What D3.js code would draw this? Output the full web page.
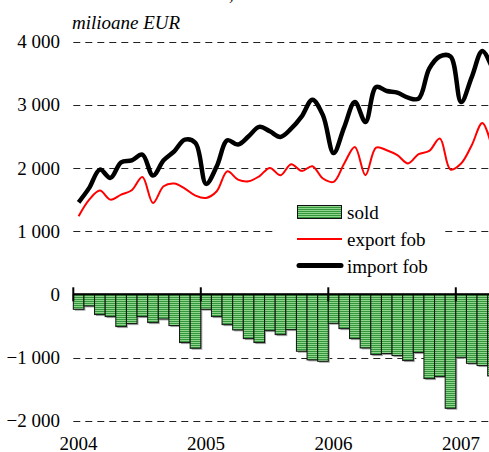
<!DOCTYPE html>
<html>
<head>
<meta charset="utf-8">
<script src="https://cdn.jsdelivr.net/npm/d3@7"></script>
<style>
  html, body { margin: 0; padding: 0; background: #fff; }
  svg { display: block; }
  text { font-family: "Liberation Serif", "Times New Roman", serif; fill: #000; }
</style>
</head>
<body>
<div id="chart"></div>
<script>
// monthly data, Jan 2004 - Apr 2007 (milioane EUR)
const months = [
  '2004-01', '2004-02', '2004-03', '2004-04', '2004-05', '2004-06', '2004-07', '2004-08', '2004-09', '2004-10', '2004-11', '2004-12',
  '2005-01', '2005-02', '2005-03', '2005-04', '2005-05', '2005-06', '2005-07', '2005-08', '2005-09', '2005-10', '2005-11', '2005-12',
  '2006-01', '2006-02', '2006-03', '2006-04', '2006-05', '2006-06', '2006-07', '2006-08', '2006-09', '2006-10', '2006-11', '2006-12',
  '2007-01', '2007-02', '2007-03', '2007-04',
];

const exportFob = [
  1235, 1498, 1641, 1498, 1578, 1646, 1857, 1446, 1709, 1752, 1673, 1562,
  1525, 1630, 1946, 1815, 1788, 1867, 2000, 1885, 2059, 1953, 2027, 1832,
  1779, 2070, 2332, 1885, 2322, 2280, 2201, 2070, 2217, 2269, 2465, 1975,
  2070, 2359, 2712, 2260,
];

const importFob = [
  1456, 1684, 1973, 1842, 2089, 2120, 2210, 1878, 2120, 2263, 2448, 2395,
  1747, 2025, 2437, 2369, 2500, 2649, 2579, 2490, 2620, 2815, 3079, 2831,
  2235, 2646, 3041, 2725, 3279, 3216, 3190, 3111, 3095, 3570, 3764, 3764,
  3041, 3437, 3848, 3550,
];

const sold = [
  -237, -185, -321, -353, -511, -464, -353, -448, -390, -495, -764, -854,
  -237, -353, -480, -564, -701, -764, -575, -638, -559, -901, -1038, -1060,
  -459, -543, -701, -849, -954, -938, -970, -1049, -922, -1334, -1302, -1804,
  -997, -1092, -1128, -1292,
];

const yTicks = [4000, 3000, 2000, 1000, 0, -1000, -2000];
const yearLabels = ['2004', '2005', '2006', '2007'];

const width = 489;
const height = 452;

const svg = d3.select('#chart')
  .append('svg')
  .attr('width', width)
  .attr('height', height);

const x = d3.scaleBand()
  .domain(months)
  .range([73.3, 73.3 + months.length * 10.625])
  .padding(0);

const y = d3.scaleLinear()
  .domain([-2000, 4000])
  .range([420.7, 41.5]);

const fmt = (v) => (v === 0 ? '0' : d3.format(',')(v).replace(',', ' '));

// stripe pattern for the bars
const defs = svg.append('defs');
const pat = defs.append('pattern')
  .attr('id', 'stripes')
  .attr('patternUnits', 'userSpaceOnUse')
  .attr('width', 4)
  .attr('height', 2);
pat.append('rect').attr('width', 4).attr('height', 1).attr('fill', '#8fd68c');
pat.append('rect').attr('y', 1).attr('width', 4).attr('height', 1).attr('fill', '#34963c');

// gridlines
svg.append('g')
  .selectAll('line')
  .data(yTicks.filter((d) => d !== 0))
  .join('line')
  .attr('x1', x.range()[0])
  .attr('x2', width)
  .attr('y1', (d) => Math.round(y(d)) + 0.5)
  .attr('y2', (d) => Math.round(y(d)) + 0.5)
  .attr('stroke', '#222')
  .attr('stroke-width', 1)
  .attr('stroke-dasharray', '7,5');

// y labels
svg.append('g')
  .selectAll('text')
  .data(yTicks)
  .join('text')
  .attr('x', 60)
  .attr('y', (d) => y(d))
  .attr('dy', '0.35em')
  .attr('text-anchor', 'end')
  .style('font-size', '19px')
  .text(fmt);

// unit label and clipped title fragment
svg.append('text')
  .attr('x', 72)
  .attr('y', 29)
  .style('font-size', '19px')
  .style('font-style', 'italic')
  .text('milioane EUR');

svg.append('text')
  .attr('x', 229)
  .attr('y', 0)
  .style('font-size', '19px')
  .text(',');

// bars: shadow then striped bar
const bars = svg.append('g');
bars.selectAll('rect.shadow')
  .data(sold)
  .join('rect')
  .attr('class', 'shadow')
  .attr('x', (d, i) => x(months[i]) + 1.5)
  .attr('y', y(0))
  .attr('width', x.bandwidth())
  .attr('height', (d) => y(d) - y(0) + 1.5)
  .attr('fill', '#aaa');

bars.selectAll('rect.bar')
  .data(sold)
  .join('rect')
  .attr('class', 'bar')
  .attr('x', (d, i) => x(months[i]))
  .attr('y', y(0))
  .attr('width', x.bandwidth())
  .attr('height', (d) => y(d) - y(0))
  .attr('fill', 'url(#stripes)')
  .attr('stroke', '#111')
  .attr('stroke-width', 1);

// zero axis with year ticks
svg.append('line')
  .attr('x1', x.range()[0])
  .attr('x2', width)
  .attr('y1', y(0))
  .attr('y2', y(0))
  .attr('stroke', '#000')
  .attr('stroke-width', 2);

svg.append('g')
  .selectAll('line')
  .data(yearLabels)
  .join('line')
  .attr('x1', (d) => x(`${d}-01`))
  .attr('x2', (d) => x(`${d}-01`))
  .attr('y1', y(0) - 7)
  .attr('y2', y(0) + 7)
  .attr('stroke', '#000')
  .attr('stroke-width', 2);

svg.append('g')
  .selectAll('text')
  .data(yearLabels)
  .join('text')
  .attr('x', (d) => x(`${d}-01`) + x.bandwidth() / 2)
  .attr('y', 450)
  .attr('text-anchor', 'middle')
  .style('font-size', '19px')
  .text((d) => d);

// lines
const line = (vals) => d3.line()
  .x((d, i) => x(months[i]) + x.bandwidth() / 2)
  .y((d) => y(d))
  .curve(d3.curveCatmullRom.alpha(0.5))(vals);

svg.append('path')
  .attr('d', line(exportFob))
  .attr('fill', 'none')
  .attr('stroke', '#ff0000')
  .attr('stroke-width', 2);

svg.append('path')
  .attr('d', line(importFob))
  .attr('fill', 'none')
  .attr('stroke', '#000')
  .attr('stroke-width', 4.5)
  .attr('stroke-linejoin', 'round');

// legend
const legend = svg.append('g');
legend.append('rect')
  .attr('x', 275)
  .attr('y', 198)
  .attr('width', 170)
  .attr('height', 84)
  .attr('fill', '#fff');

legend.append('rect')
  .attr('x', 297.5)
  .attr('y', 205.5)
  .attr('width', 44)
  .attr('height', 13)
  .attr('fill', 'url(#stripes)')
  .attr('stroke', '#111')
  .attr('stroke-width', 1);

legend.append('line')
  .attr('x1', 297).attr('x2', 342)
  .attr('y1', 239).attr('y2', 239)
  .attr('stroke', '#ff0000')
  .attr('stroke-width', 2);

legend.append('line')
  .attr('x1', 299).attr('x2', 341)
  .attr('y1', 265.5).attr('y2', 265.5)
  .attr('stroke', '#000')
  .attr('stroke-width', 5)
  .attr('stroke-linecap', 'round');

legend.selectAll('text')
  .data([['sold', 212], ['export fob', 239], ['import fob', 266]])
  .join('text')
  .attr('x', 347)
  .attr('y', (d) => d[1])
  .attr('dy', '0.35em')
  .style('font-size', '19px')
  .text((d) => d[0]);
</script>
</body>
</html>
